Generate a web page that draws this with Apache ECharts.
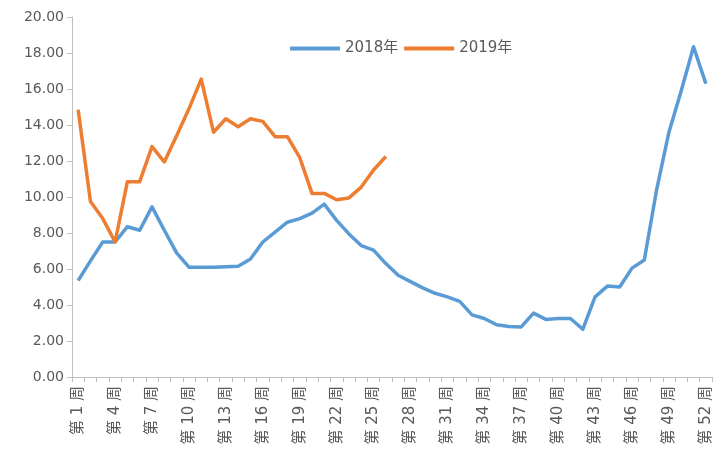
<!DOCTYPE html>
<html>
<head>
<meta charset="utf-8">
<script src="https://cdn.jsdelivr.net/npm/echarts@6/dist/echarts.min.js"></script>
<style>
  html, body { margin: 0; padding: 0; background: #ffffff; }
  #chart { width: 721px; height: 452px; }
</style>
</head>
<body>
<div id="chart"></div>
<script>
// Weekly values, 2018 full year and 2019 first 26 weeks
const weeks = [];
for (let i = 1; i <= 52; i++) weeks.push('第' + i + '周');

const seriesNames = ['2018年', '2019年'];

const values2018 = [
  5.35, 6.45, 7.5, 7.5, 8.35, 8.15, 9.45, 8.15, 6.9, 6.1,
  6.1, 6.1, 6.12, 6.15, 6.55, 7.5, 8.05, 8.6, 8.8, 9.1,
  9.6, 8.7, 7.95, 7.3, 7.05, 6.3, 5.65, 5.3, 4.95, 4.65,
  4.45, 4.2, 3.45, 3.25, 2.9, 2.8, 2.78, 3.55, 3.2, 3.25,
  3.25, 2.65, 4.45, 5.05, 5.0, 6.05, 6.5, 10.4, 13.6, 15.9,
  18.35, 16.3
];

const values2019 = [
  14.85, 9.75, 8.8, 7.5, 10.85, 10.85, 12.8, 11.95, 13.4, 14.9,
  16.55, 13.6, 14.35, 13.9, 14.35, 14.2, 13.35, 13.35, 12.2, 10.2,
  10.2, 9.85, 9.95, 10.55, 11.5, 12.25
];

const colors = ['#5b9bd5', '#ed7d31'];
const axisGray = '#bfbfbf';
const textGray = '#595959';
const baseFont = '"DejaVu Sans", "Noto Sans CJK SC", sans-serif';

const chart = echarts.init(document.getElementById('chart'));
chart.setOption({
  animation: false,
  color: colors,
  textStyle: { fontFamily: baseFont },
  legend: {
    left: 285,
    top: 36,
    icon: 'rect',
    itemWidth: 50,
    itemHeight: 4,
    itemGap: 6,
    textStyle: { color: textGray, fontSize: 15, fontFamily: baseFont },
    data: seriesNames
  },
  grid: { left: 72, right: 9, top: 17, bottom: 75, containLabel: false },
  xAxis: {
    type: 'category',
    data: weeks,
    boundaryGap: true,
    axisLine: { lineStyle: { color: axisGray, width: 1 } },
    axisTick: { show: true, interval: 0, length: 5, lineStyle: { color: axisGray } },
    axisLabel: {
      interval: 2,
      rotate: 90,
      color: textGray,
      fontSize: 15,
      margin: 9,
      fontFamily: baseFont,
      // spaced like CJK/Latin auto-spacing: 第 1 周
      formatter: v => v.replace(/(\d+)/, ' $1 ')
    },
    splitLine: { show: false }
  },
  yAxis: {
    type: 'value',
    min: 0,
    max: 20,
    interval: 2,
    axisLine: { show: true, lineStyle: { color: axisGray, width: 1 } },
    axisTick: { show: true, length: 5, lineStyle: { color: axisGray } },
    axisLabel: {
      color: textGray,
      fontSize: 14,
      margin: 8,
      formatter: v => v.toFixed(2)
    },
    splitLine: { show: false }
  },
  series: [
    {
      name: seriesNames[0],
      type: 'line',
      data: values2018,
      showSymbol: false,
      symbol: 'none',
      lineStyle: { width: 3.5, color: colors[0], join: 'round' }
    },
    {
      name: seriesNames[1],
      type: 'line',
      data: values2019,
      showSymbol: false,
      symbol: 'none',
      lineStyle: { width: 3.5, color: colors[1], join: 'round' }
    }
  ]
});
</script>
</body>
</html>
